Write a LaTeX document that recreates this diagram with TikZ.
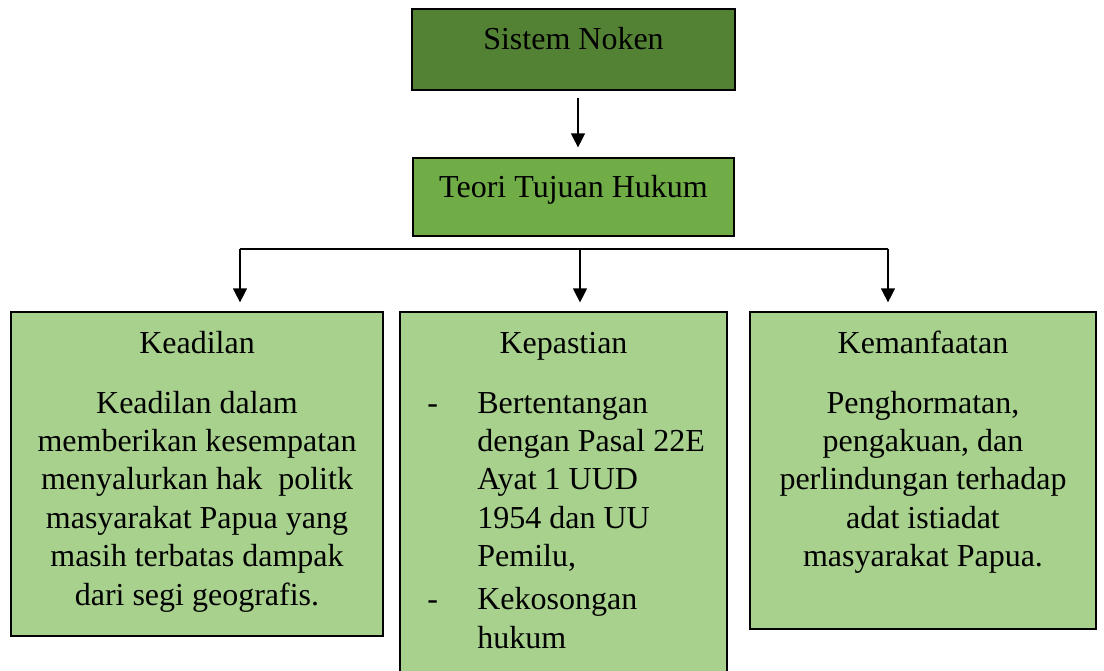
\documentclass[tikz,border=0pt]{standalone}
\usepackage{fontspec}
\setmainfont{Liberation Serif}
\usepackage{xcolor}
\usepackage{tikz}
\definecolor{nokencolor}{RGB}{84, 130, 53}
\definecolor{teoricolor}{RGB}{112, 173, 71}
\definecolor{leafcolor}{RGB}{169, 209, 142}
\usetikzlibrary{arrows.meta, positioning, calc}

\begin{document}
\begin{tikzpicture}[
    x=0.5pt, y=-0.5pt,
    every node/.style={font=\fontsize{16pt}{19.2pt}\selectfont},
    topbox/.style={rectangle, draw, line width=0.6pt, text height=11pt, text depth=11pt},
    leafbox/.style={rectangle, draw, line width=0.6pt, fill=leafcolor},
    leaftext/.style={inner sep=0pt},
    arrow/.style={-{Triangle[width=7pt, length=7pt]}, line width=0.6pt}
]
    \useasboundingbox (0,0) rectangle (1104,670);

    % Top boxes
    \node[topbox, fill=nokencolor, minimum width=161.5pt, minimum height=40.5pt] (noken) at (573.5, 49.5) {Sistem Noken};
    \node[topbox, fill=teoricolor, minimum width=160.5pt, minimum height=39pt] (teori) at (573.5, 197) {Teori Tujuan Hukum};

    % Leaf boxes
    \node[leafbox, minimum width=186pt, minimum height=162pt] (keadilan) at (197, 474) {};
    \node[leafbox, minimum width=163.5pt, minimum height=181.5pt] (kepastian) at (563.5, 493.5) {};
    \node[leafbox, minimum width=173pt, minimum height=158.5pt] (manfaat) at (923, 470.5) {};

    % Headings
    \node[leaftext, anchor=base] (keadilan-head) at (197, 353) {Keadilan};
    \node[leaftext, anchor=base] (kepastian-head) at (563.5, 353) {Kepastian};
    \node[leaftext, anchor=base] (manfaat-head) at (923, 353) {Kemanfaatan};

    % Leaf texts
    \node[leaftext, anchor=base] (keadilan-text) at (197, 413) {\begin{tabular}[t]{@{}c@{}}
        Keadilan dalam\\ memberikan kesempatan\\ menyalurkan hak\ \ politk\\
        masyarakat Papua yang\\ masih terbatas dampak\\ dari segi geografis.
    \end{tabular}};
    \node[leaftext, anchor=base west] (kepastian-text) at (427, 413) {\begin{tabular}[t]{@{}p{25pt}@{}l@{}}
        - & Bertentangan\\
          & dengan Pasal 22E\\
          & Ayat 1 UUD\\
          & 1954 dan UU\\
          & Pemilu,\\[2.3pt]
        - & Kekosongan\\
          & hukum
    \end{tabular}};
    \node[leaftext, anchor=base] (manfaat-text) at (923, 413) {\begin{tabular}[t]{@{}c@{}}
        Penghormatan,\\ pengakuan, dan\\ perlindungan terhadap\\
        adat istiadat\\ masyarakat Papua.
    \end{tabular}};

    % Fork
    \coordinate (fork-l) at (240, 249);
    \coordinate (fork-m) at (580, 249);
    \coordinate (fork-r) at (888, 249);

    % Arrows
    \draw[arrow, shorten <=3.5pt, shorten >=5pt] ([xshift=2.25pt]noken.south) -- ([xshift=2.25pt]teori.north);
    \draw[line width=0.6pt] (fork-l) -- (fork-r);
    \draw[arrow, shorten >=4.5pt] (fork-l) -- (fork-l |- keadilan.north);
    \draw[arrow, shorten >=4.5pt] (fork-m) -- (fork-m |- kepastian.north);
    \draw[arrow, shorten >=4.5pt] (fork-r) -- (fork-r |- manfaat.north);
\end{tikzpicture}
\end{document}
